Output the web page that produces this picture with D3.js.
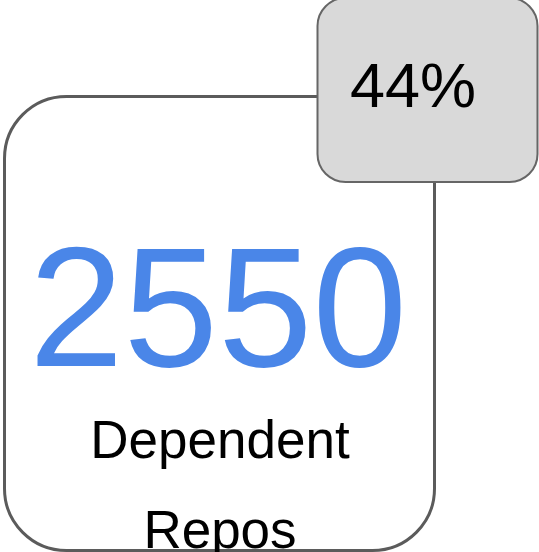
<!DOCTYPE html>
<html>
<head>
<meta charset="utf-8">
<script src="https://cdn.jsdelivr.net/npm/d3@7"></script>
<style>
    html, body { margin: 0; padding: 0; background: #fff; }
    svg { display: block; }
</style>
</head>
<body>
<div id="chart"></div>
<script>
// card data
const mainValue = [2550];
const labelLines = ["Dependent", "Repos"];
const percentValue = [44];

const width = 539,
    height = 552;

const svg = d3.select("#chart")
    .append("svg")
    .attr("width", width)
    .attr("height", height);

// main card
svg.append("rect")
    .attr("x", 4.5)
    .attr("y", 96.5)
    .attr("width", 430)
    .attr("height", 454)
    .attr("rx", 62)
    .attr("fill", "#fff")
    .attr("stroke", "#5b5b5b")
    .attr("stroke-width", 3);

svg.selectAll("text.value")
    .data(mainValue)
    .enter()
    .append("text")
    .attr("class", "value")
    .attr("x", 218)
    .attr("y", 366)
    .attr("text-anchor", "middle")
    .attr("font-family", "'Liberation Sans', Arial, sans-serif")
    .attr("font-size", 170)
    .attr("fill", "#4a86e8")
    .text(d => d);

// label lines (the second one runs off the bottom, as in the original)
svg.selectAll("text.label")
    .data(labelLines)
    .enter()
    .append("text")
    .attr("class", "label")
    .attr("x", 220)
    .attr("y", (d, i) => 458 + i * 90)
    .attr("text-anchor", "middle")
    .attr("font-family", "'Liberation Sans', Arial, sans-serif")
    .attr("font-size", 53)
    .attr("fill", "#000")
    .text(d => d);

// percent badge
svg.append("rect")
    .attr("x", 317.5)
    .attr("y", -2)
    .attr("width", 220)
    .attr("height", 184)
    .attr("rx", 28)
    .attr("fill", "#d9d9d9")
    .attr("stroke", "#666")
    .attr("stroke-width", 2);

svg.selectAll("text.pct")
    .data(percentValue)
    .enter()
    .append("text")
    .attr("class", "pct")
    .attr("x", 413)
    .attr("y", 107)
    .attr("text-anchor", "middle")
    .attr("font-family", "'Liberation Sans', Arial, sans-serif")
    .attr("font-size", 63)
    .attr("fill", "#000")
    .text(d => d + "%");
</script>
</body>
</html>
